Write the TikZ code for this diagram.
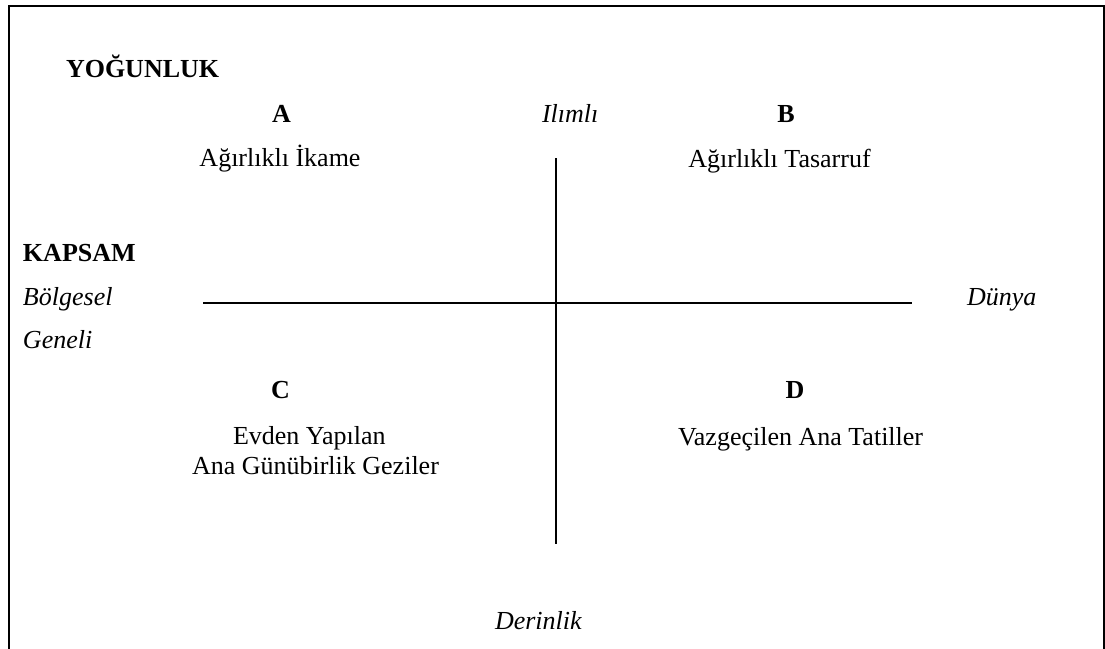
\documentclass[tikz,border=0pt]{standalone}
\usepackage{fontspec}
\setmainfont{Liberation Serif}
\begin{document}
\begin{tikzpicture}[x=1pt,y=-1pt,
  txt/.style={inner sep=0pt,outer sep=0pt,font=\fontsize{26}{31}\selectfont},
  hd/.style={txt,font=\fontsize{26}{31}\selectfont\bfseries},
  it/.style={txt,font=\fontsize{26}{31}\selectfont\itshape},
  frame/.style={line width=2pt},
  axis/.style={line width=1.8pt}]
\useasboundingbox (0,0) rectangle (1105,648);
\draw[frame] (9,650) -- (9,6) -- (1103.5,6) -- (1103.5,650);
% headings
\node[hd,anchor=base west] (yog) at (66,77) {YOĞUNLUK};
\node[hd,anchor=base west] (kapsam) at (23,261) {KAPSAM};
% quadrant letters
\node[hd,anchor=base] (A) at (281.5,122) {A};
\node[hd,anchor=base] (B) at (786,122) {B};
\node[hd,anchor=base] (C) at (280.5,398) {C};
\node[hd,anchor=base] (D) at (795,398) {D};
% axis labels
\node[it,anchor=base west] (ilimli) at (542,122) {Ilımlı};
\node[it,anchor=base west] (derinlik) at (495,629) {Derinlik};
\node[it,anchor=base west] (bolgesel) at (23,305) {Bölgesel};
\node[it,anchor=base west] (geneli) at (23,348) {Geneli};
\node[it,anchor=base west] (dunya) at (967,305) {Dünya};
% quadrant texts
\node[txt,anchor=base] (ikame) at (280,166) {Ağırlıklı İkame};
\node[txt,anchor=base] (tasarruf) at (779.5,167) {Ağırlıklı Tasarruf};
\node[txt,anchor=base west] (evden) at (233,444) {Evden Yapılan};
\node[txt,anchor=base west] (ana) at (192,474) {Ana Günübirlik Geziler};
\node[txt,anchor=base west] (vazgec) at (678,445) {Vazgeçilen Ana Tatiller};
% axes
\coordinate (vtop) at (556,158);
\coordinate (vbot) at (556,544);
\coordinate (hl) at (203,303);
\coordinate (hr) at (912,303);
\draw[axis] (vtop) -- (vbot);
\draw[axis] (hl) -- (hr);
\end{tikzpicture}
\end{document}
